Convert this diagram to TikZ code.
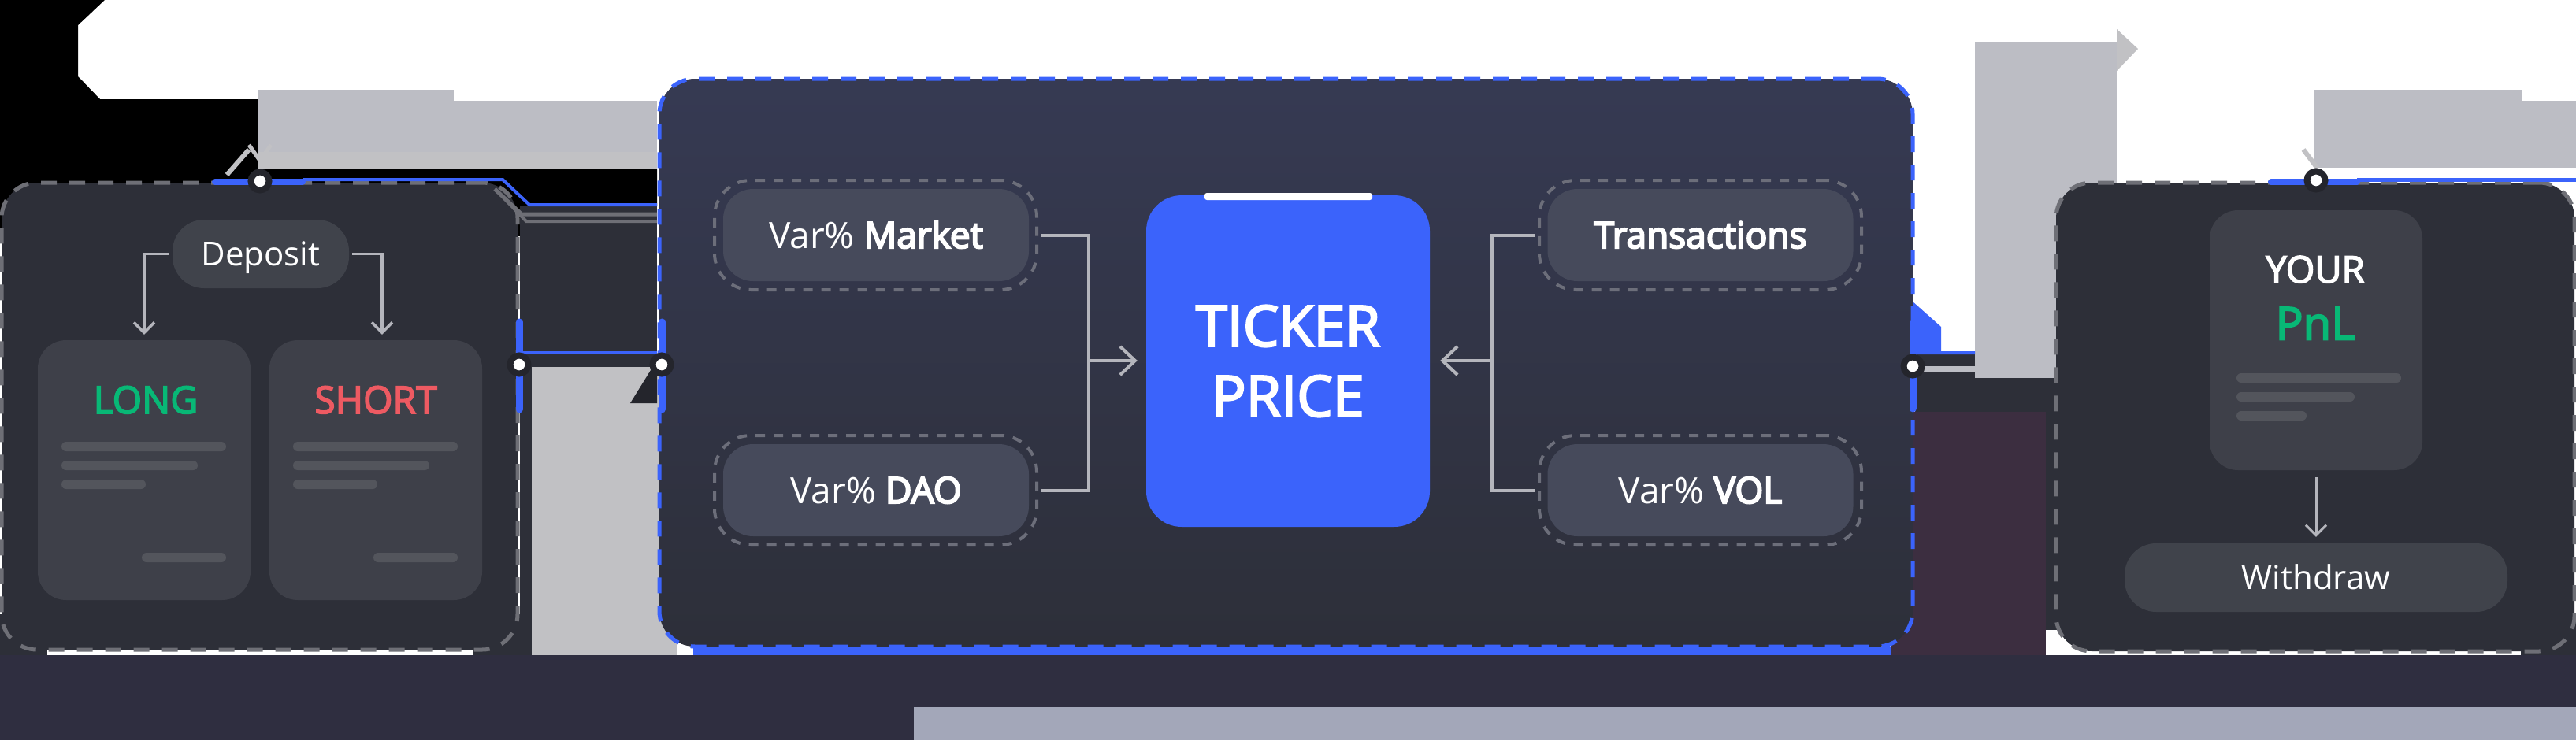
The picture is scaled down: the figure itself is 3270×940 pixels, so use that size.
\documentclass[tikz,border=0pt]{standalone}
\usepackage{fontspec}
\setmainfont{Open Sans}
\newfontfamily\semibf{Open Sans}[FakeBold=4.5]
\newfontfamily\medf{Open Sans}[FakeBold=3.2]
\usetikzlibrary{arrows.meta}
\definecolor{navy}{HTML}{2F2E40}
\definecolor{boxfill}{HTML}{2D2F38}
\definecolor{cardfill}{HTML}{3E4049}
\definecolor{pillfill}{HTML}{40434B}
\definecolor{varfill}{HTML}{464A5B}
\definecolor{coretop}{HTML}{363A53}
\definecolor{corebot}{HTML}{2D2F39}
\definecolor{accent}{HTML}{3B63FB}
\definecolor{bordergray}{HTML}{6E6F76}
\definecolor{ringgray}{HTML}{6C6E7A}
\definecolor{slab}{HTML}{BCBDC4}
\definecolor{slablight}{HTML}{C1C1C4}
\definecolor{cline}{HTML}{B4B5BC}
\definecolor{barfill}{HTML}{53555C}
\definecolor{longgreen}{HTML}{08B876}
\definecolor{shortred}{HTML}{EE5A62}
\definecolor{maroon}{HTML}{3C2E40}
\definecolor{band}{HTML}{A3A7B9}
\definecolor{dotring}{HTML}{24252C}
\begin{document}
\begin{tikzpicture}[x=1pt,y=-1pt,
  conn/.style={draw=cline, line width=3.5pt},
  tipS/.style={-{Straight Barb[length=13pt,width=26pt]}},
  tipL/.style={-{Straight Barb[length=19pt,width=36pt]}},
  outerbox/.style={rectangle, rounded corners=45pt, draw=bordergray, line width=5pt, dash pattern=on 20pt off 16pt, fill=boxfill, inner sep=0pt},
  card/.style={rectangle, rounded corners=36pt, fill=cardfill, inner sep=0pt},
  pill/.style={rectangle, rounded corners=40pt, fill=pillfill, text=white, inner sep=0pt, minimum height=87pt, font=\fontsize{42}{50}\selectfont, text height=30pt, text depth=0pt},
  varnode/.style={rectangle, rounded corners=38pt, fill=varfill, text=white, inner sep=0pt, minimum width=388pt, minimum height=117pt, font=\fontsize{46}{50}\selectfont, text height=33pt, text depth=0pt},
  ring/.style={rectangle, rounded corners=46pt, draw=ringgray, line width=4pt, dash pattern=on 12pt off 11pt, inner sep=0pt, minimum width=409pt, minimum height=139pt},
  bar/.style={fill=barfill, rounded corners=6pt},
  dot/.style={circle, fill=white, draw=dotring, line width=8pt, minimum size=23pt, inner sep=0pt},
  title/.style={text height=35pt, text depth=0pt, inner sep=0pt, font=\medf\fontsize{48}{50}\selectfont}
]
\useasboundingbox (0,0) rectangle (3270,940);
% ---- backdrop ----
\fill[white] (0,0) rectangle (3270,940);
\fill[navy] (0,832) rectangle (3270,940);
\fill[black] (0,0) -- (133,0) -- (99,32) -- (99,97) -- (127,126) -- (327,126) -- (327,214)
  -- (834,214) -- (834,262) -- (662,262) -- (662,300) -- (0,300) -- cycle;
\fill[slab] (327,114) rectangle (576,193);
\fill[slab] (576,128) rectangle (834,193);
\fill[slablight] (327,193) rectangle (834,214);
\draw[slablight, line width=6pt] (288,222) -- (316,190);
\draw[slablight, line width=5pt] (316,184) -- (330,204) -- (344,184);
% right top slabs
\fill[slab] (2937,114) rectangle (3201,213);
\fill[slab] (3201,128) rectangle (3270,213);
\draw[slablight, line width=6pt] (2924,190) -- (2942,214);
% gap regions
\fill[boxfill] (0,780) rectangle (60,832);
\fill[boxfill] (600,780) rectangle (675,832);
\fill[boxfill] (660,262) rectangle (834,832);
\fill[slablight] (675,466) rectangle (860,832);
\fill[dotring] (800,512) -- (834,512) -- (834,470) -- (826,470) -- cycle;
\fill[boxfill] (2431,448) rectangle (2615,523);
\fill[boxfill] (2595,283) rectangle (2615,800);
\fill[maroon] (2400,523) rectangle (2597,832);
\fill[boxfill] (3200,780) rectangle (3270,832);
\fill[slab] (2507,53) rectangle (2687,480);
\fill[slablight] (2687,37) -- (2714,62) -- (2687,90) -- cycle;
\fill[accent] (2428,383) -- (2464,415) -- (2464,446) -- (2507,446) -- (2507,450) -- (2428,450) -- cycle;
% ---- main containers ----
\node[outerbox, minimum width=655pt, minimum height=593pt] (lbox) at (329.5,528.5) {};
\node[outerbox, minimum width=658pt, minimum height=595pt] (rbox) at (2939,529.5) {};
\node[rectangle, rounded corners=45pt, draw=accent, line width=5pt, dash pattern=on 20pt off 16pt,
  top color=coretop, bottom color=corebot, inner sep=0pt, minimum width=1591pt, minimum height=721pt] (core) at (1632.5,460.5) {};
\fill[accent] (880,822) rectangle (2400,832);
% ---- accent traces ----
\draw[accent, line width=8pt, line cap=round] (273,231) -- (384,231);
\draw[accent, line width=4pt] (384,228) -- (638,228) -- (672,260) -- (834,260);
\draw[bordergray, line width=5pt] (628,240) -- (662,272) -- (834,272);
\draw[bordergray, line width=4pt] (640,252) -- (668,281) -- (834,281);
\draw[accent, line width=4pt] (659,405) -- (659,448) -- (834,448);
\draw[accent, line width=8pt, line cap=round] (2883,231) -- (2992,231);
\draw[accent, line width=5pt] (2992,228) -- (3270,228);
\draw[accent, line width=9pt, line cap=round] (659,409) -- (659,520);
\draw[accent, line width=9pt, line cap=round] (840,409) -- (840,520);
\draw[accent, line width=9pt, line cap=round] (2428,411) -- (2428,519);
% ---- left box content ----
\node[pill, minimum width=224pt] (dep) at (331,322.5) {Deposit};
\node[card, minimum width=270pt, minimum height=330pt] (long) at (183,597) {};
\node[card, minimum width=270pt, minimum height=330pt] (short) at (477,597) {};
\node[title, text=longgreen] (longt) at (185,507.5) {LONG};
\node[title, text=shortred] (shortt) at (477,507.5) {SHORT};
\foreach \dx in {0,294}{
  \fill[bar] (78+\dx,561) rectangle (287+\dx,573);
  \fill[bar] (78+\dx,585) rectangle (251+\dx,597);
  \fill[bar] (78+\dx,609) rectangle (185+\dx,621);
  \fill[bar] (180+\dx,702) rectangle (287+\dx,714);
}
\draw[conn, tipS] ([xshift=-4pt]dep.west) -| ([yshift=7pt]long.north);
\draw[conn, tipS] ([xshift=4pt]dep.east) -| ([xshift=8pt,yshift=7pt]short.north);
% ---- core content ----
\node[ring] (vmo) at (1111.5,298.5) {};
\node[ring] (vdo) at (1111.5,622.5) {};
\node[ring] (tro) at (2158.5,298.5) {};
\node[ring] (vvo) at (2158.5,622.5) {};
\node[varnode] (vm) at (1112,298.5) {Var\% {\semibf Market}};
\node[varnode] (vd) at (1112,622.5) {Var\% {\semibf DAO}};
\node[varnode] (tr) at (2158.5,298.5) {{\semibf Transactions}};
\node[varnode] (vv) at (2158.5,622.5) {Var\% {\semibf VOL}};
\node[rectangle, rounded corners=45pt, fill=accent, inner sep=0pt, minimum width=360pt, minimum height=421pt,
  text=white, align=center, font=\medf\fontsize{72}{89}\selectfont] (tick) at (1635,458.5) {TICKER\\PRICE};
\fill[white, rounded corners=3pt] (1529,245) rectangle (1742,254);
\coordinate (jL) at (1382,458);
\coordinate (jR) at (1894,458);
\draw[conn, line width=4pt] ([xshift=4pt]vmo.east) -| (jL);
\draw[conn, line width=4pt] ([xshift=4pt]vdo.east) -| (jL);
\draw[conn, line width=4pt, tipL, shorten >=11pt] (jL) -- (tick.west |- jL);
\draw[conn, line width=4pt] ([xshift=-4pt]tro.west) -| (jR);
\draw[conn, line width=4pt] ([xshift=-4pt]vvo.west) -| (jR);
\draw[conn, line width=4pt, tipL, shorten >=13pt] (jR) -- (tick.east |- jR);
% ---- right box content ----
\node[card, minimum width=270pt, minimum height=330pt] (pcard) at (2940,432) {};
\node[title, text=white, font=\medf\fontsize{47}{50}\selectfont, text height=34pt] (your) at (2939,342) {YOUR};
\node[title, text=longgreen, font=\medf\fontsize{58}{60}\selectfont, text height=42pt] (pnl) at (2939,410.5) {PnL};
\fill[bar] (2839,474) rectangle (3048,486);
\fill[bar] (2839,498) rectangle (2989,510);
\fill[bar] (2839,522) rectangle (2928,534);
\node[pill, minimum width=486pt] (wd) at (2940,733.5) {Withdraw};
\draw[conn, line width=3pt, tipS, shorten <=9pt, shorten >=8pt] (pcard.south) -- (wd.north);
% ---- link dots ----
\coordinate (cRend) at (2528,468);
\draw[slab, line width=7pt] (2440,468) -- (cRend);
\node[dot] (dTL) at (330,230) {};
\node[dot] (dLR) at (659,463) {};
\node[dot] (dCL) at (840,463) {};
\node[dot] (dCR) at (2428,465) {};
\node[dot] (dTR) at (2940,229) {};
% ---- caption strip ----
\fill[band] (1160,898) rectangle (3270,940);
\end{tikzpicture}
\end{document}
